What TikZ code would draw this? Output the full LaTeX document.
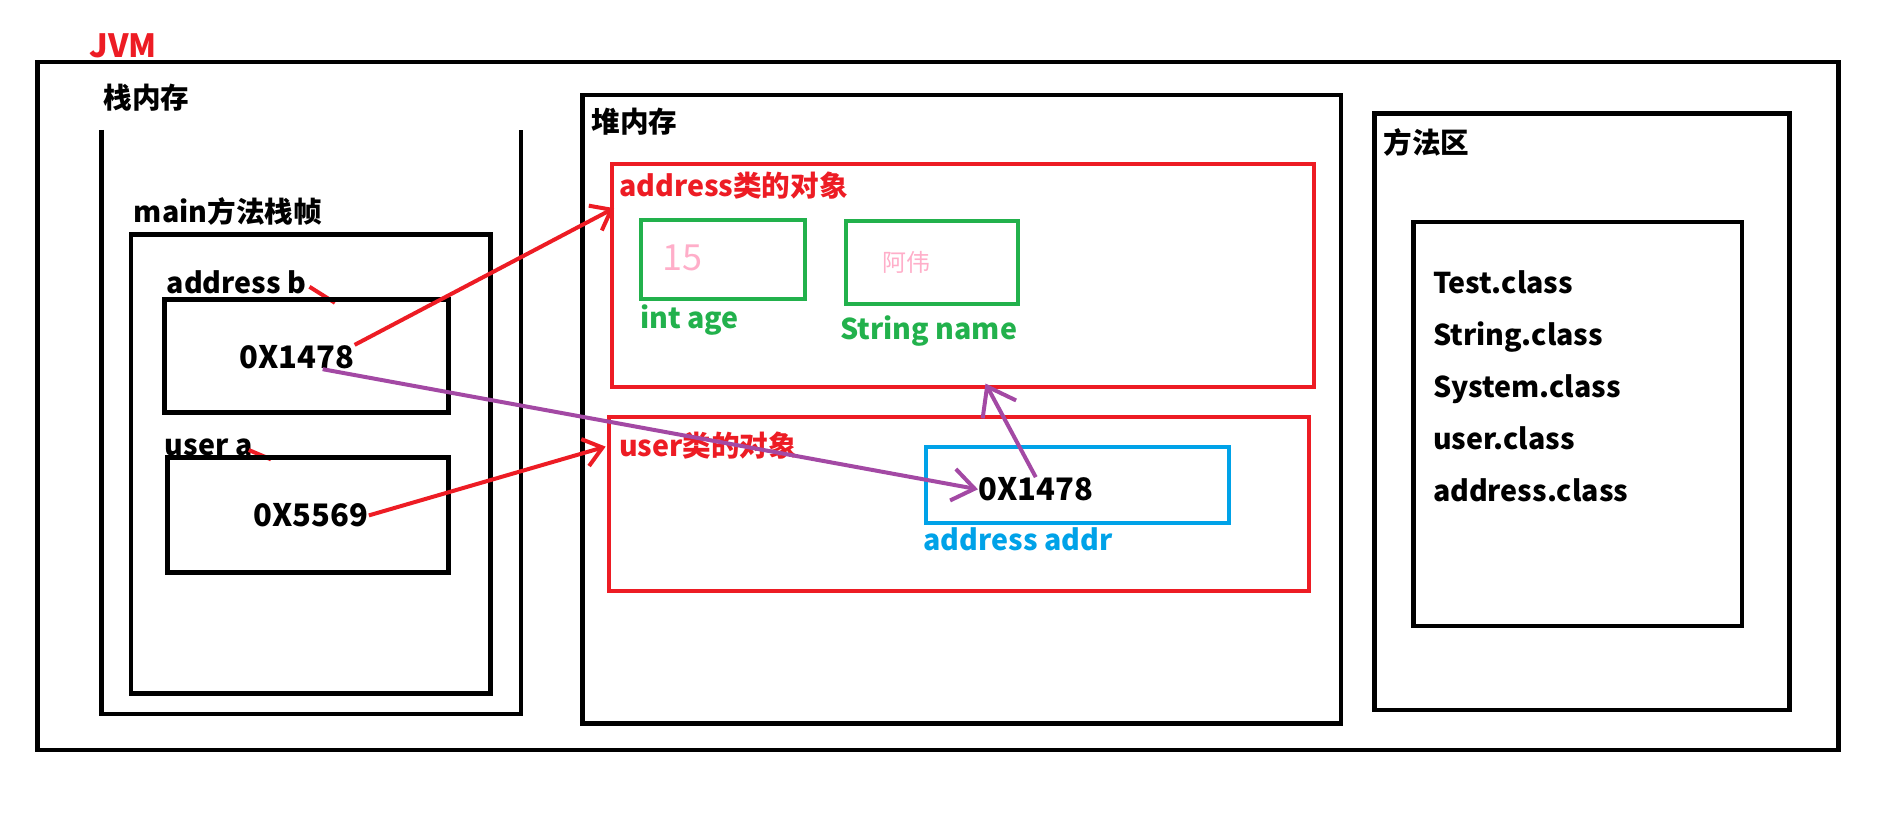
\documentclass[tikz,border=0pt]{standalone}
\usepackage{fontspec}
\setmainfont{Noto Sans CJK SC}
\usetikzlibrary{arrows.meta}
\definecolor{paintred}{RGB}{237,28,36}
\definecolor{paintgreen}{RGB}{34,177,76}
\definecolor{paintblue}{RGB}{0,162,232}
\definecolor{paintpurple}{RGB}{163,73,164}
\definecolor{paintpink}{RGB}{255,174,201}
\tikzset{
  wall/.style={draw=black, line width=2.3pt},
  objbox/.style={draw=paintred, line width=2pt},
  fieldbox/.style={draw=paintgreen, line width=2pt},
  refbox/.style={draw=paintblue, line width=2pt},
  lbl/.style={anchor=base west, inner sep=0pt, font=\fontsize{14.3}{16}\selectfont\bfseries},
  addrval/.style={anchor=base west, inner sep=0pt, font=\fontsize{15.5}{17}\selectfont\bfseries},
  fieldval/.style={anchor=base west, inner sep=0pt, text=paintpink},
  ref/.style={line width=2pt, -{Straight Barb[length=9pt,width=14pt]}}
}
\begin{document}
\begin{tikzpicture}[x=0.6068pt, y=-0.6068pt]
\useasboundingbox (0,0) rectangle (1568,679);
% JVM frame
\node[lbl, text=paintred, font=\fontsize{16}{18}\selectfont\bfseries] (jvm) at (73.5,47) {JVM};
\draw[wall] (31,51) rectangle (1515,618);
% stack
\node[lbl] (stack) at (85,89.5) {栈内存};
\draw[wall] (83.6,107) -- (83.6,588.4) -- (429.4,588.4) -- (429.4,107);
\node[lbl] (frame) at (110,183) {main方法栈帧};
\draw[wall] (108,193) rectangle (404,571.3);
\node[lbl] (nameb) at (137,242) {address b};
\draw[paintred, line width=2pt] (255,236.3) -- (276,249.5);
\draw[wall] (135.6,247) rectangle (369.6,340);
\node[addrval] (valb) at (197,303.5) {0X1478};
\node[lbl] (namea) at (135.6,375) {user a};
\draw[paintred, line width=2pt] (205,370.8) -- (223.3,378.5);
\draw[wall] (137.8,376.8) rectangle (369.6,471.6);
\node[addrval] (vala) at (208.7,434) {0X5569};
% heap
\node[lbl] (heap) at (487,109) {堆内存};
\draw[wall] (480,78.3) rectangle (1105,596);
\draw[objbox] (504.5,135.4) rectangle (1082.5,319.2);
\node[lbl, text=paintred] (addrobj) at (509.8,162) {address类的对象};
\draw[fieldbox] (528.2,181.3) rectangle (663.1,246.4);
\node[fieldval, font=\fontsize{18}{20}\selectfont] (age) at (545.5,222.5) {15};
\node[lbl, text=paintgreen] (agename) at (527,270.5) {int age};
\draw[fieldbox] (697,182) rectangle (838.6,250.5);
\node[fieldval, font=\fontsize{12}{14}\selectfont] (name) at (727,224) {阿伟};
\node[lbl, text=paintgreen] (strname) at (692,279.6) {String name};
\draw[objbox] (501.6,343.3) rectangle (1078.5,486.7);
\node[lbl, text=paintred] (userobj) at (509.8,376.3) {user类的对象};
\draw[refbox] (762.8,368.6) rectangle (1012.7,430.7);
\node[addrval] (addrref) at (805.8,412.5) {0X1478};
\node[lbl, text=paintblue] (addrname) at (760.7,453.2) {address addr};
% method area
\node[lbl] (method) at (1139.6,126.5) {方法区};
\draw[wall] (1132.3,93.7) rectangle (1474.6,585);
\draw[wall] (1164.8,182.8) rectangle (1435.4,515.7);
\node[lbl] (c1) at (1180.4,242) {Test.class};
\node[lbl] (c2) at (1180.4,284.7) {String.class};
\node[lbl] (c3) at (1180.4,327.4) {System.class};
\node[lbl] (c4) at (1180.4,370.1) {user.class};
\node[lbl] (c5) at (1180.4,412.8) {address.class};
% references
\coordinate (addrin) at (506,171.5);
\coordinate (userin) at (499,368);
\coordinate (addrbottom) at (812,316);
\draw[ref, paintred] (valb.north east) -- (addrin);
\draw[ref, paintred] (vala.east) -- (userin);
\draw[ref, paintpurple, -{Straight Barb[length=11pt,width=16pt]}] ([xshift=-16pt]valb.south east) -- (addrref.west);
\draw[ref, paintpurple, -{Straight Barb[length=13pt,width=19pt]}] (addrref.north) -- (addrbottom);
\end{tikzpicture}
\end{document}
